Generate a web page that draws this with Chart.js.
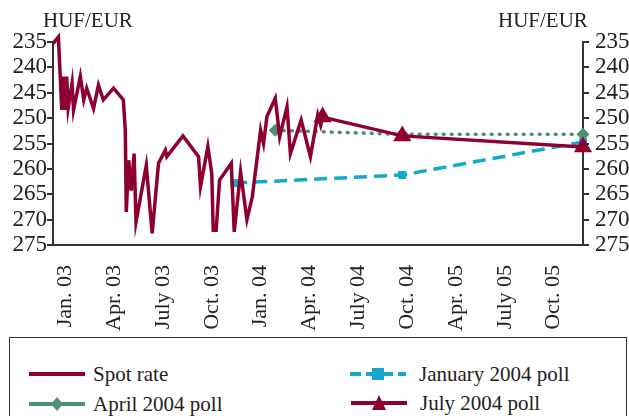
<!DOCTYPE html>
<html>
<head>
<meta charset="utf-8">
<script src="https://cdn.jsdelivr.net/npm/chart.js@4"></script>
<style>
  body { margin: 0; background: #fff; }
  #wrap { position: relative; width: 629px; height: 416px; overflow: hidden; font-family: "Liberation Serif", serif; color: #222; }
  #chartBox { position: absolute; left: 0; top: 0; width: 629px; height: 336px; }
  #legendBox { position: absolute; left: 9px; top: 337px; width: 618px; height: 100px; border: 1.5px solid #333; box-sizing: border-box; }
  .item { position: absolute; font-size: 21px; line-height: 24px; white-space: nowrap; }
  .item svg { position: absolute; left: 0; top: 0; }
  .item span { position: absolute; top: 0; }
</style>
</head>
<body>
<div id="wrap">
  <div id="chartBox"><canvas id="fxChart"></canvas></div>
  <div id="legendBox"></div>
</div>
<script>
// Quarter labels on the x axis (index = position, Jan. 03 = 0)
const tickLabels = ["Jan. 03", "Apr. 03", "July 03", "Oct. 03", "Jan. 04", "Apr. 04",
                    "July 04", "Oct. 04", "Apr. 05", "July 05", "Oct. 05"];

// Spot rate, HUF/EUR
const spotX = [-0.25, -0.14, -0.07, -0.03, 0.00, 0.03, 0.06, 0.14, 0.17, 0.31, 0.38, 0.44, 0.58, 0.68,
               0.78, 0.99, 1.19, 1.23, 1.25, 1.30, 1.35, 1.41, 1.45, 1.66, 1.78, 1.91, 2.05, 2.08,
               2.41, 2.73, 2.77, 2.92, 3.00, 3.03, 3.09, 3.16, 3.40, 3.46, 3.59, 3.72, 3.83, 4.00,
               4.06, 4.13, 4.30, 4.39, 4.54, 4.61, 4.83, 5.02, 5.17, 5.23, 5.27];
const spotY = [235.3, 234.0, 248.4, 241.8, 248.4, 241.8, 248.0, 243.1, 248.4, 241.8, 246.4, 244.1, 248.1, 243.5,
               246.4, 244.1, 246.4, 252.4, 268.5, 258.3, 264.3, 257.0, 270.4, 259.3, 272.7, 258.9, 256.3, 257.6,
               253.5, 257.6, 263.5, 255.6, 260.9, 272.1, 272.1, 262.2, 258.9, 272.4, 260.6, 270.0, 265.5, 252.4,
               255.0, 249.7, 246.1, 253.7, 247.8, 257.0, 250.4, 257.6, 249.4, 251.4, 249.8];

// Poll forecasts
const janPollX = [3.46, 6.9, 10.6];
const janPollY = [262.8, 261.2, 254.7];
const aprPollX = [4.3, 6.9, 10.6];
const aprPollY = [252.4, 253.2, 253.2];
const julPollX = [5.27, 6.9, 10.6];
const julPollY = [249.8, 253.5, 255.7];

const CRIMSON = '#8e0034';
const CYAN = '#14a9cb';
const GREEN = '#4f8f73';
const FONT = "'Liberation Serif', 'Times New Roman', serif";

function toPoints(xs, ys) {
    return xs.map((x, i) => ({ x: x, y: ys[i] }));
}

// Axis unit captions
const unitLabels = {
    id: 'unitLabels',
    afterDraw(chart) {
        const ctx = chart.ctx;
        ctx.save();
        ctx.font = "21px " + FONT;
        ctx.fillStyle = '#222';
        ctx.textBaseline = 'alphabetic';
        ctx.fillText('HUF/EUR', 43, 27);
        ctx.fillText('HUF/EUR', 498, 27);
        ctx.restore();
    }
};

const yTicks = {
    color: '#222',
    font: { family: FONT, size: 23, lineHeight: 1 },
    stepSize: 5,
    autoSkip: false
};

new Chart(document.getElementById('fxChart'), {
    type: 'line',
    data: {
        datasets: [
            {
                label: 'Spot rate',
                data: toPoints(spotX, spotY),
                borderColor: CRIMSON,
                borderWidth: 3.5,
                pointRadius: 0,
                order: 0
            },
            {
                label: 'July 2004 poll',
                data: toPoints(julPollX, julPollY),
                borderColor: CRIMSON,
                backgroundColor: CRIMSON,
                borderWidth: 3.5,
                pointStyle: 'triangle',
                pointRadius: 7,
                order: 1
            },
            {
                label: 'April 2004 poll',
                data: toPoints(aprPollX, aprPollY),
                borderColor: GREEN,
                backgroundColor: GREEN,
                borderWidth: 3.5,
                borderDash: [1, 7],
                borderCapStyle: 'round',
                pointStyle: 'rectRot',
                pointRadius: 6,
                pointBorderWidth: 1,
                order: 2
            },
            {
                label: 'January 2004 poll',
                data: toPoints(janPollX, janPollY),
                borderColor: CYAN,
                backgroundColor: CYAN,
                borderWidth: 3.5,
                borderDash: [13, 7],
                pointStyle: 'rect',
                pointRadius: 5,
                pointBorderWidth: 1,
                order: 3
            }
        ]
    },
    options: {
        responsive: true,
        maintainAspectRatio: false,
        animation: false,
        clip: false,
        layout: { padding: { top: 42, left: 0, right: 0, bottom: 0 } },
        elements: { line: { tension: 0 } },
        plugins: {
            legend: { display: false },
            tooltip: { enabled: false }
        },
        scales: {
            x: {
                type: 'linear',
                min: -0.25,
                max: 10.6,
                afterBuildTicks: (scale) => {
                    scale.ticks = tickLabels.map((_, i) => ({ value: i }));
                },
                afterFit: (scale) => { scale.height = 91; },
                grid: { display: false, drawTicks: false },
                border: { display: true, color: '#333', width: 2 },
                ticks: {
                    color: '#222',
                    font: { family: FONT, size: 22 },
                    minRotation: 90,
                    maxRotation: 90,
                    autoSkip: false,
                    padding: 20,
                    callback: (value, index) => tickLabels[index]
                }
            },
            y: {
                position: 'left',
                reverse: true,
                min: 235,
                max: 275,
                afterFit: (scale) => { scale.width = 53; },
                grid: { drawOnChartArea: false, drawTicks: true, tickLength: 6, color: '#333', lineWidth: 2 },
                border: { display: true, color: '#333', width: 2 },
                ticks: { ...yTicks, padding: 0 }
            },
            y1: {
                position: 'right',
                reverse: true,
                min: 235,
                max: 275,
                afterFit: (scale) => { scale.width = 46; },
                grid: { drawOnChartArea: false, drawTicks: true, tickLength: 6, color: '#333', lineWidth: 2 },
                border: { display: true, color: '#333', width: 2 },
                ticks: { ...yTicks, padding: 6 }
            }
        }
    },
    plugins: [unitLabels]
});

// HTML legend
const legendItems = [
    { text: 'Spot rate', left: 19, top: 24, color: CRIMSON, dash: '', marker: '' },
    { text: 'April 2004 poll', left: 19, top: 54, color: GREEN, dash: '', marker: 'diamond' },
    { text: 'January 2004 poll', left: 340, top: 24, color: CYAN, dash: '11 5', marker: 'square' },
    { text: 'July 2004 poll', left: 341, top: 53, color: CRIMSON, dash: '', marker: 'triangle' }
];

const legendBox = document.getElementById('legendBox');
legendItems.forEach(item => {
    const el = document.createElement('div');
    el.className = 'item';
    el.style.left = item.left + 'px';
    el.style.top = item.top + 'px';
    let marker = '';
    if (item.marker === 'diamond') {
        marker = `<polygon points="28,5 34,12 28,19 22,12" fill="${item.color}"/>`;
    } else if (item.marker === 'square') {
        marker = `<rect x="22" y="6" width="12" height="12" fill="${item.color}"/>`;
    } else if (item.marker === 'triangle') {
        marker = `<polygon points="28,4 35,19 21,19" fill="${item.color}"/>`;
    }
    el.innerHTML = `<svg width="58" height="24"><line x1="0" y1="12" x2="56" y2="12" stroke="${item.color}" stroke-width="4" ${item.dash ? `stroke-dasharray="${item.dash}"` : ''}/>${marker}</svg><span style="left:${item.left < 100 ? 64 : 69}px">${item.text}</span>`;
    legendBox.appendChild(el);
});
</script>
</body>
</html>
